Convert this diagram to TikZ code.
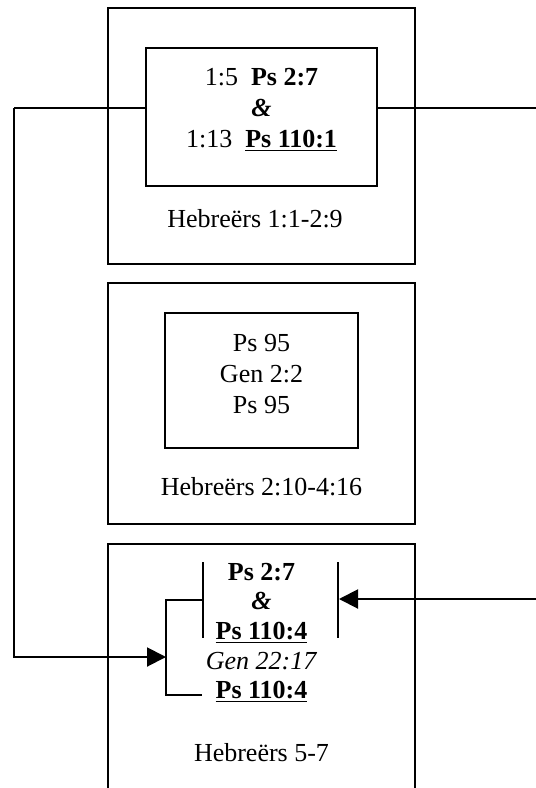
\documentclass[tikz,border=0pt]{standalone}
\usepackage{fontspec}
\setmainfont{Liberation Serif}
\usetikzlibrary{arrows.meta, positioning}

\begin{document}
\begin{tikzpicture}[
    x=0.5pt, y=-0.5pt,
    frame/.style={rectangle, draw, line width=1.3pt, minimum width=153.5pt},
    inbox/.style={rectangle, draw, line width=1.2pt},
    txt/.style={align=center, inner sep=0pt, font=\fontsize{13}{15.5}\selectfont},
    link/.style={line width=1pt},
    arrow/.style={line width=1pt, -{Triangle[length=9.5pt, width=9.5pt]}}
]
    \clip (0,0) rectangle (536,788);

    % Outer frames
    \node[frame, minimum height=128pt] (box1) at (261.5,136) {};
    \node[frame, minimum height=120.5pt] (box2) at (261.5,403.5) {};
    \node[frame, minimum height=178pt] (box3) at (261.5,722) {};

    % Inner frames
    \node[inbox, minimum width=115.5pt, minimum height=69pt] (in1) at (261.5,117) {};
    \node[inbox, minimum width=96.5pt, minimum height=67.5pt] (in2) at (261.5,380.5) {};

    % Texts
    \node[txt] (t1) at (261.5,110) {1:5\ \ \textbf{Ps 2:7}\\ \textbf{\textit{\&}}\\ 1:13\ \ \textbf{\underline{Ps 110:1}}};
    \node[txt] (lbl1) at (255,219) {Hebreërs 1:1-2:9};
    \node[txt] (t2) at (261.5,374) {Ps 95\\ Gen 2:2\\ Ps 95};
    \node[txt] (lbl2) at (261.5,487) {Hebreërs 2:10-4:16};
    \node[txt, font=\fontsize{13}{14.8}\selectfont] (t3) at (261.5,633) {\textbf{Ps 2:7}\\ \textbf{\textit{\&}}\\ \textbf{\underline{Ps 110:4}}\\ \textit{Gen 22:17}\\ \textbf{\underline{Ps 110:4}}};
    \node[txt] (lbl3) at (261.5,753) {Hebreërs 5-7};

    % Brackets
    \coordinate (blt) at (203,562);
    \coordinate (blb) at (203,638);
    \coordinate (brt) at (338,562);
    \coordinate (brb) at (338,638);
    \draw[line width=1.3pt] (blt) -- (blb);
    \draw[line width=1.3pt] (brt) -- (brb);

    % Connector points
    \coordinate (lft) at (14,108);
    \coordinate (rgt) at (536,108);
    \coordinate (rgt2) at (536,599);
    \coordinate (hub) at (166,657);
    \coordinate (blm) at (203,600);
    \coordinate (hubb) at (166,695);
    \coordinate (pe) at (202,695);
    \coordinate (brm) at (339,599);

    % Connectors
    \draw[link] (in1.west |- lft) -- (lft);
    \draw[arrow] (lft) |- (hub);
    \draw[link] (in1.east |- rgt) -- (rgt);
    \draw[arrow] (rgt2) -- (brm);
    \draw[link] (blm) -| (hubb) -- (pe);

\end{tikzpicture}
\end{document}
